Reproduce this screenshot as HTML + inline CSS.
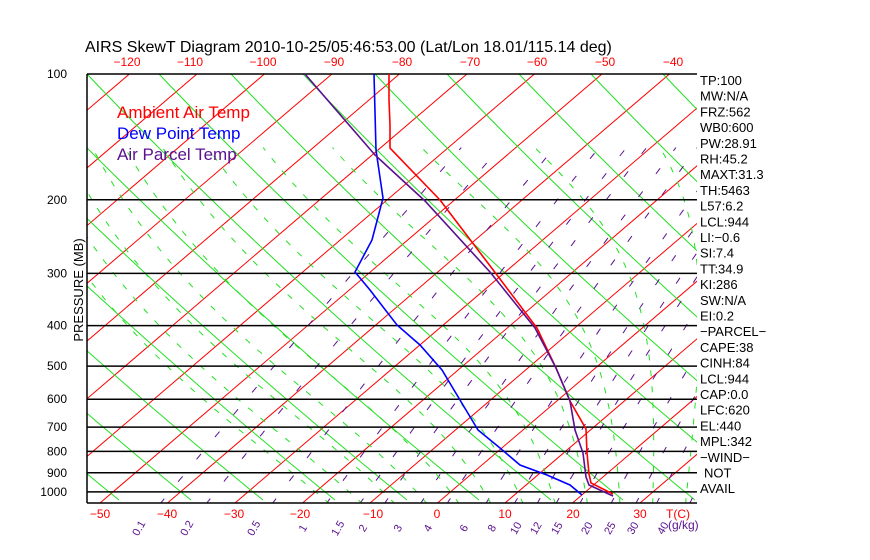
<!DOCTYPE html>
<html><head><meta charset="utf-8"><style>
html,body{margin:0;padding:0;background:#fff;width:870px;height:560px;overflow:hidden}
svg{display:block;font-family:"Liberation Sans",sans-serif}
</style></head><body>
<svg id="s" width="870" height="560" viewBox="0 0 870 560" xmlns="http://www.w3.org/2000/svg">
<defs><clipPath id="c"><rect x="87" y="74" width="610" height="429"/></clipPath></defs>
<g id="grid" clip-path="url(#c)"></g>
<g id="fg"></g>
<text x="85" y="52" font-size="16" fill="#000">AIRS SkewT Diagram 2010-10-25/05:46:53.00 (Lat/Lon 18.01/115.14 deg)</text>
<text x="117" y="118" font-size="17" fill="#ff0000">Ambient Air Temp</text>
<text x="117" y="139" font-size="17" fill="#0000ff">Dew Point Temp</text>
<text x="117" y="160" font-size="17" fill="#5a1090">Air Parcel Temp</text>
<text transform="translate(83,290) rotate(-90)" text-anchor="middle" font-size="13" fill="#000">PRESSURE (MB)</text>
</svg>
<script>
(function(){
var NS="http://www.w3.org/2000/svg";
var g=document.getElementById('grid'),fg=document.getElementById('fg');
function Y(p){return 74+181.5*Math.log(p/100);}
function X(T,p){return 100+(T+50)*6.75+(503-Y(p))*1.17;}
function el(par,tag,a,txt){var e=document.createElementNS(NS,tag);for(var k in a)e.setAttribute(k,a[k]);if(txt!==undefined)e.textContent=txt;par.appendChild(e);return e;}
function pl(par,pts,col,w,dash){var d=pts.map(function(q){return q[0].toFixed(1)+','+q[1].toFixed(1)}).join(' ');var a={points:d,fill:'none',stroke:col,'stroke-width':w};if(dash)a['stroke-dasharray']=dash;el(par,'polyline',a);}
var ps=[];for(var p=1070;p>=95;p-=5)ps.push(p);
for(var T=-200;T<=60;T+=10){pl(g,[[X(T,1070),Y(1070)],[X(T,95),Y(95)]],'#ff0000',1);}
// dry adiabats (near-parallel gently curved lines)
for(var k=-9;k<=9;k++){var xt=87+72*k,pts=[];for(var y=74;y<=503;y+=6){var s=y-74;pts.push([xt+0.95*s+0.14*s*s/429,y]);}pl(g,pts,'#22e022',1);}
function tdw(w,p){var e=w*p/(622+w);var l=Math.log(e/6.112);return 243.5*l/(17.67-l);}
var ws=[0.1,0.2,0.5,1,1.5,2,3,4,6,8,10,12,15,20,25,30,40];
ws.forEach(function(w){pl(g,ps.filter(function(p){return p>=150}).map(function(p){return [X(tdw(w,p),p),Y(p)]}),'#5a1090',1,'7,22');});
function es(T){return 6.112*Math.exp(17.67*T/(T+243.5));}
function step(T,p,dp){var Tk=T+273.15,e=es(T),r=0.622*e/(p-e),L=2.5e6,Rd=287,cp=1004;
  var gg=(Rd*Tk+L*r)/(cp+L*L*r*0.622/(Rd*Tk*Tk))/p;return T+gg*dp;}
function moist(T0){var T1=T0,p1,up=[];for(p1=1000;p1>=150;p1-=5){up.push([X(T1,p1),Y(p1)]);T1=step(T1,p1,-5);}
 var dn=[];T1=T0;for(p1=1000;p1<=1070;p1+=5){dn.unshift([X(T1,p1),Y(p1)]);T1=step(T1,p1,5);}
 return dn.concat(up);}
for(var t=-20;t<=45;t+=5){pl(g,moist(t),'#22e022',1,'6,10');}
[100,200,300,400,500,600,700,800,900,1000].forEach(function(p){var y=Y(p);el(fg,'line',{x1:87,y1:y,x2:697,y2:y,stroke:'#000','stroke-width':1.5});el(fg,'text',{x:67,y:y+4,'text-anchor':'end','font-size':12,fill:'#000'},String(p));});
el(fg,'line',{x1:87,y1:503,x2:697,y2:503,stroke:'#000','stroke-width':1.5});
el(fg,'line',{x1:87,y1:74,x2:87,y2:503,stroke:'#000','stroke-width':1.5});
pl(fg,[[389,74],[389,100],[390,125],[390,148],[440,200],[497,275],[537,328],[556,368],[570,401],[586,429],[587,453],[589,474],[591,483],[613,494]],'#ff0000',1.6);
pl(fg,[[374,74],[376,150],[383,198],[372,240],[355,272],[370,290],[397,325],[420,345],[442,370],[460,400],[478,430],[500,448],[520,465],[547,475],[570,485],[582,495]],'#0000ff',1.6);
pl(fg,[[305,74],[375,155],[425,201],[490,272],[535,328],[556,368],[570,401],[575,430],[583,453],[586,477],[589,485],[613,496]],'#5a1090',1.6);
var topL=[[-120,127],[-110,190],[-100,263],[-90,334],[-80,402],[-70,470],[-60,537],[-50,605],[-40,673]];
topL.forEach(function(a){el(fg,'text',{x:a[1],y:66,'text-anchor':'middle','font-size':12,fill:'#ff0000'},String(a[0]).replace('-','\u2212'));});
var bot=[[-50,100],[-40,167],[-30,234],[-20,300],[-10,373],[0,437],[10,505],[20,573],[30,640]];
bot.forEach(function(a){el(fg,'text',{x:a[1],y:518,'text-anchor':'middle','font-size':12,fill:'#ff0000'},String(a[0]).replace('-','\u2212'));});
el(fg,'text',{x:678,y:518,'text-anchor':'middle','font-size':12,fill:'#ff0000'},'T(C)');
var wl=[['0.1',142],['0.2',190],['0.5',257],['1',306],['1.5',341],['2',366],['3',401],['4',431],['6',467],['8',495],['10',519],['12',539],['15',560],['20',590],['25',613],['30',636],['40',666]];
wl.forEach(function(a){el(fg,'text',{transform:'translate('+a[1]+',530) rotate(-60)','text-anchor':'middle','font-size':11,fill:'#5a1090'},a[0]);});
el(fg,'text',{x:668,y:529,'font-size':12,fill:'#5a1090'},'(g/kg)');
var lab=['TP:100','MW:N/A','FRZ:562','WB0:600','PW:28.91','RH:45.2','MAXT:31.3','TH:5463','L57:6.2','LCL:944','LI:\u22120.6','SI:7.4','TT:34.9','KI:286','SW:N/A','EI:0.2','\u2212PARCEL\u2212','CAPE:38','CINH:84','LCL:944','CAP:0.0','LFC:620','EL:440','MPL:342','\u2212WIND\u2212','NOT','AVAIL'];
lab.forEach(function(t,i){el(fg,'text',{x:(t==='NOT'?704:700),y:85+i*15.7,'font-size':13,fill:'#000'},t);});
})();
</script>
</body></html>
